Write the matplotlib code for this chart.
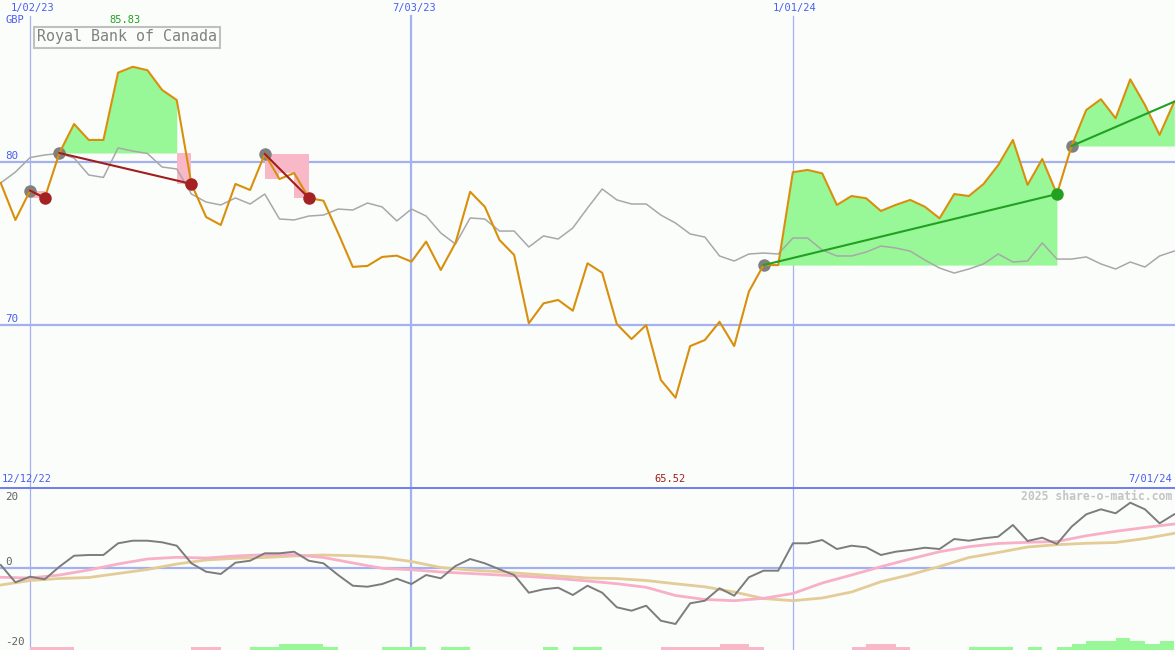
import numpy as np
import matplotlib
matplotlib.use("Agg")
import matplotlib.pyplot as plt
import matplotlib.transforms as mtransforms

# weekly points, week 0 = 2 Jan 2023
weeks = np.arange(-2, 79)

price = [78.70, 76.43, 78.23, 77.78, 80.54, 82.32, 81.34, 81.34, 85.47, 85.83,
         85.62, 84.41, 83.79, 78.64, 76.61, 76.12, 78.64, 78.27, 80.48, 78.94,
         79.31, 77.78, 77.61, 75.63, 73.55, 73.61, 74.16, 74.24, 73.87, 75.10,
         73.36, 75.02, 78.16, 77.24, 75.20, 74.28, 70.09, 71.31, 71.52, 70.86,
         73.77, 73.19, 70.04, 69.12, 69.98, 66.61, 65.52, 68.69, 69.06, 70.18,
         68.69, 72.03, 73.66, 73.66, 79.36, 79.50, 79.29, 77.35, 77.90, 77.76,
         76.98, 77.35, 77.66, 77.24, 76.53, 78.02, 77.90, 78.64, 79.80, 81.34,
         78.58, 80.17, 78.02, 80.97, 83.18, 83.84, 82.67, 85.06, 83.49, 81.65,
         83.69]

relative = [78.70, 79.37, 80.26, 80.42, 80.51, 80.23, 79.19, 79.04, 80.85, 80.66,
            80.51, 79.68, 79.56, 78.02, 77.53, 77.35, 77.78, 77.41, 78.02, 76.49,
            76.43, 76.67, 76.73, 77.10, 77.04, 77.47, 77.23, 76.37, 77.10, 76.67,
            75.63, 74.95, 76.55, 76.49, 75.75, 75.75, 74.77, 75.45, 75.26, 75.94,
            77.16, 78.33, 77.66, 77.41, 77.41, 76.73, 76.24, 75.57, 75.38, 74.22,
            73.91, 74.34, 74.40, 74.34, 75.32, 75.32, 74.59, 74.22, 74.22, 74.46,
            74.83, 74.71, 74.52, 73.97, 73.48, 73.17, 73.42, 73.73, 74.34, 73.85,
            73.91, 75.02, 74.03, 74.03, 74.16, 73.73, 73.42, 73.85, 73.54, 74.22,
            74.52]

# trades: (entry week, exit week, closed?)
trades = [(0, 1, True), (2, 11, True), (16, 19, True), (50, 70, True), (71, 78, False)]

# lower panel
momentum = [0.83, -4.49, -2.77, -3.57, 0.31, 3.69, 3.91, 3.91, 7.51, 8.31,
            8.31, 7.82, 6.77, 1.35, -1.23, -1.94, 1.54, 2.15, 4.43, 4.43,
            4.92, 2.15, 1.35, -2.25, -5.54, -5.85, -5.02, -3.38, -5.02, -2.25,
            -3.26, 0.52, 2.68, 1.35, -0.49, -2.25, -7.69, -6.65, -6.15, -8.40,
            -5.54, -7.69, -12.18, -13.23, -11.69, -16.31, -17.32, -10.95, -10.15, -6.34,
            -8.62, -2.95, -0.92, -0.92, 7.51, 7.51, 8.52, 5.75, 6.77, 6.28,
            3.91, 4.92, 5.45, 6.15, 5.75, 8.83, 8.31, 9.05, 9.54, 13.14,
            8.22, 9.23, 7.29, 12.62, 16.43, 17.97, 16.74, 20.0, 17.97, 13.66,
            16.43]

weeks2 = np.arange(-2, 79, 2)
signal_fast = [-2.95, -3.17, -2.25, -0.71, 1.14, 2.68, 3.20, 2.98, 3.60, 4.00,
               4.00, 3.14, 1.45, -0.18, -0.62, -1.32, -1.78, -2.25, -2.71, -3.32,
               -4.09, -4.92, -6.03, -8.55, -9.78, -10.15, -9.42, -7.94, -4.71, -2.25,
               0.31, 2.68, 4.92, 6.46, 7.45, 7.82, 8.06, 9.82, 11.2, 12.37,
               13.45]
signal_slow = [-5.32, -3.94, -3.32, -3.02, -1.78, -0.55, 1.14, 2.37, 2.89, 3.14,
               3.60, 3.91, 3.69, 3.14, 1.91, 0.06, -0.71, -1.23, -1.94, -2.55,
               -3.17, -3.35, -3.94, -4.95, -5.88, -7.48, -9.48, -10.15, -9.32, -7.48,
               -4.31, -2.15, 0.37, 3.14, 4.68, 6.37, 7.08, 7.51, 7.75, 8.98,
               10.58]

# weekly bars along the bottom, k = -2 .. 78
bar_level = [0, 0, -1, -1, -1, 0, 0, 0, 0, 0, 0, 0, 0, -1, -1, 0, 0, 1, 1, 2,
             2, 2, 1, 0, 0, 0, 1, 1, 1, 0, 1, 1, 0, 0, 0, 0, 0, 1, 0, 1,
             1, 0, 0, 0, 0, -1, -1, -1, -1, -2, -2, -1, 0, 0, 0, 0, 0, 0, -1, -2,
             -2, -1, 0, 0, 0, 0, 1, 1, 1, 0, 1, 0, 1, 2, 3, 3, 4, 3, 2, 3,
             0]

date_marks = [0, 26, 52]
date_labels = ["1/02/23", "7/03/23", "1/01/24"]
price_levels = [80, 70]
osc_labels = ["20", "0", "-20"]

price = np.array(price)
relative = np.array(relative)
bar_level = np.array(bar_level)

bg = "#fbfdfb"
orange = "#d8900c"
green_fill = "#98f898"
pink_fill = "#f8b8c8"
grid_blue = "#a4b0f0"
label_blue = "#4a5ef0"
mono = "DejaVu Sans Mono"

fig = plt.figure(figsize=(11.75, 6.5), dpi=100, facecolor=bg)
ax = fig.add_axes([0, 163 / 650, 1, 487 / 650])
ax2 = fig.add_axes([0, 0, 1, 163 / 650])
for a in (ax, ax2):
    a.set_facecolor(bg)
    a.set_xlim(-2.05, 78.05)
    a.set_xticks([])
    a.set_yticks([])
    for s in a.spines.values():
        s.set_visible(False)

ax.set_ylim(60.04, 89.93)
ax2.set_ylim(-25.32, 24.83)

# grid
for w in date_marks:
    lw = 1.6 if w == 26 else 0.9
    ax.axvline(w, ymax=(487 - 16) / 487, color=grid_blue, lw=lw, zorder=1)
    ax2.axvline(w, color=grid_blue, lw=lw, zorder=1)
for lv in price_levels:
    ax.axhline(lv, color=grid_blue, lw=1.6, zorder=1)
ax2.axhline(0, color=grid_blue, lw=1.6, zorder=1)
ax2.axhline(ax2.get_ylim()[1], color="#7080ec", lw=2.2, zorder=5)

# trade fills
for k0, k1, closed in trades:
    i0, i1 = k0 + 2, k1 + 2
    entry = price[i0]
    seg_x = weeks[i0:i1 + 1]
    seg_p = price[i0:i1 + 1]
    loss = closed and price[i1] < entry
    if loss:
        above = np.where(seg_p >= entry)[0]
        last = above[-1] if len(above) else 0
        ax.fill_between(seg_x[:last + 1], entry, seg_p[:last + 1],
                        where=seg_p[:last + 1] >= entry, interpolate=True,
                        color=green_fill, lw=0, zorder=2)
        ax.fill_between(seg_x[last:], entry, np.minimum(seg_p[last:], entry),
                        step="pre", color=pink_fill, lw=0, zorder=2)
    else:
        ax.fill_between(seg_x, entry, seg_p, where=seg_p >= entry,
                        interpolate=True, color=green_fill, lw=0, zorder=2)

ax.plot(weeks, relative, color="#a8a8a8", lw=1.1, zorder=3)

for k0, k1, closed in trades:
    i0 = k0 + 2
    ax.plot(weeks[i0], price[i0], "o", color="#808080", ms=9, mew=0, zorder=4)

ax.plot(weeks, price, color=orange, lw=1.5, zorder=5)

for k0, k1, closed in trades:
    i0, i1 = k0 + 2, k1 + 2
    entry = price[i0]
    loss = closed and price[i1] < entry
    col = "#a01e1e" if loss else "#22a022"
    ax.plot([weeks[i0], weeks[i1]], [entry, price[i1]], color=col, lw=1.5, zorder=6)
    if closed:
        ax.plot(weeks[i1], price[i1], "o", color="#a52222" if loss else "#22a022",
                ms=9, mew=0, zorder=7)

# texts in top panel
tr = mtransforms.blended_transform_factory(ax.transData, ax.transAxes)
for w, lab in zip(date_marks, date_labels):
    ax.text(w + 0.15, 1 - 8 / 487, lab, transform=tr, ha="center", va="center",
            color=label_blue, fontsize=7.5, family=mono)
ax.text(5 / 1175, 1 - 20 / 487, "GBP", transform=ax.transAxes, ha="left",
        va="center", color=label_blue, fontsize=7.5, family=mono)
for lv in price_levels:
    ax.text(5 / 1175, lv + 0.35, str(lv), transform=mtransforms.blended_transform_factory(
        ax.transAxes, ax.transData), ha="left", va="center", color=label_blue,
        fontsize=7.8, family=mono)

imax = int(np.argmax(price))
imin = int(np.argmin(price))
ax.text(weeks[imax] - 0.5, 1 - 20 / 487, f"{price[imax]:.2f}", transform=tr,
        ha="center", va="center", color="#22a022", fontsize=7.5, family=mono)
ax.text(weeks[imin] - 0.35, 1 - 479 / 487, f"{price[imin]:.2f}", transform=tr,
        ha="center", va="center", color="#a01e1e", fontsize=7.5, family=mono)
ax.text(2 / 1175, 1 - 479 / 487, "12/12/22", transform=ax.transAxes, ha="left",
        va="center", color=label_blue, fontsize=7.5, family=mono)
ax.text(1172 / 1175, 1 - 479 / 487, "7/01/24", transform=ax.transAxes, ha="right",
        va="center", color=label_blue, fontsize=7.5, family=mono)

ax.text(37 / 1175, 1 - 37 / 487, "Royal Bank of Canada", transform=ax.transAxes,
        ha="left", va="center", color="#808080", fontsize=10.8, family=mono,
        bbox=dict(boxstyle="square,pad=0.2", fc=bg, ec="#c0c0c0", lw=1.5), zorder=8)

# lower panel
ax2.plot(weeks2, signal_slow, color="#e4cc98", lw=2.0, zorder=2)
ax2.plot(weeks2, signal_fast, color="#f8b0c8", lw=2.0, zorder=2)
ax2.plot(weeks, momentum, color="#7c7c7c", lw=1.4, zorder=3)

ybot = ax2.get_ylim()[0]
unit = 0.92
bar_col = ["#98f898" if v > 0 else "#f8b8c8" for v in bar_level]
ax2.bar(weeks, np.abs(bar_level) * unit, bottom=ybot, width=1.0, align="edge",
        color=bar_col, lw=0, zorder=2)

for py, lab in zip([496.7, 561.7, 642.0], osc_labels):
    ax2.text(5 / 1175, 1 - (py - 487) / 163, lab, transform=ax2.transAxes,
             ha="left", va="center", color="#606060", fontsize=7.8, family=mono)
ax2.text(1172 / 1175, 1 - 9 / 163, "2025 share-o-matic.com", transform=ax2.transAxes,
         ha="right", va="center", color="#c4c4c4", fontsize=8.3, family=mono,
         fontweight="bold")

fig.savefig("out.png", dpi=100, facecolor=bg)
